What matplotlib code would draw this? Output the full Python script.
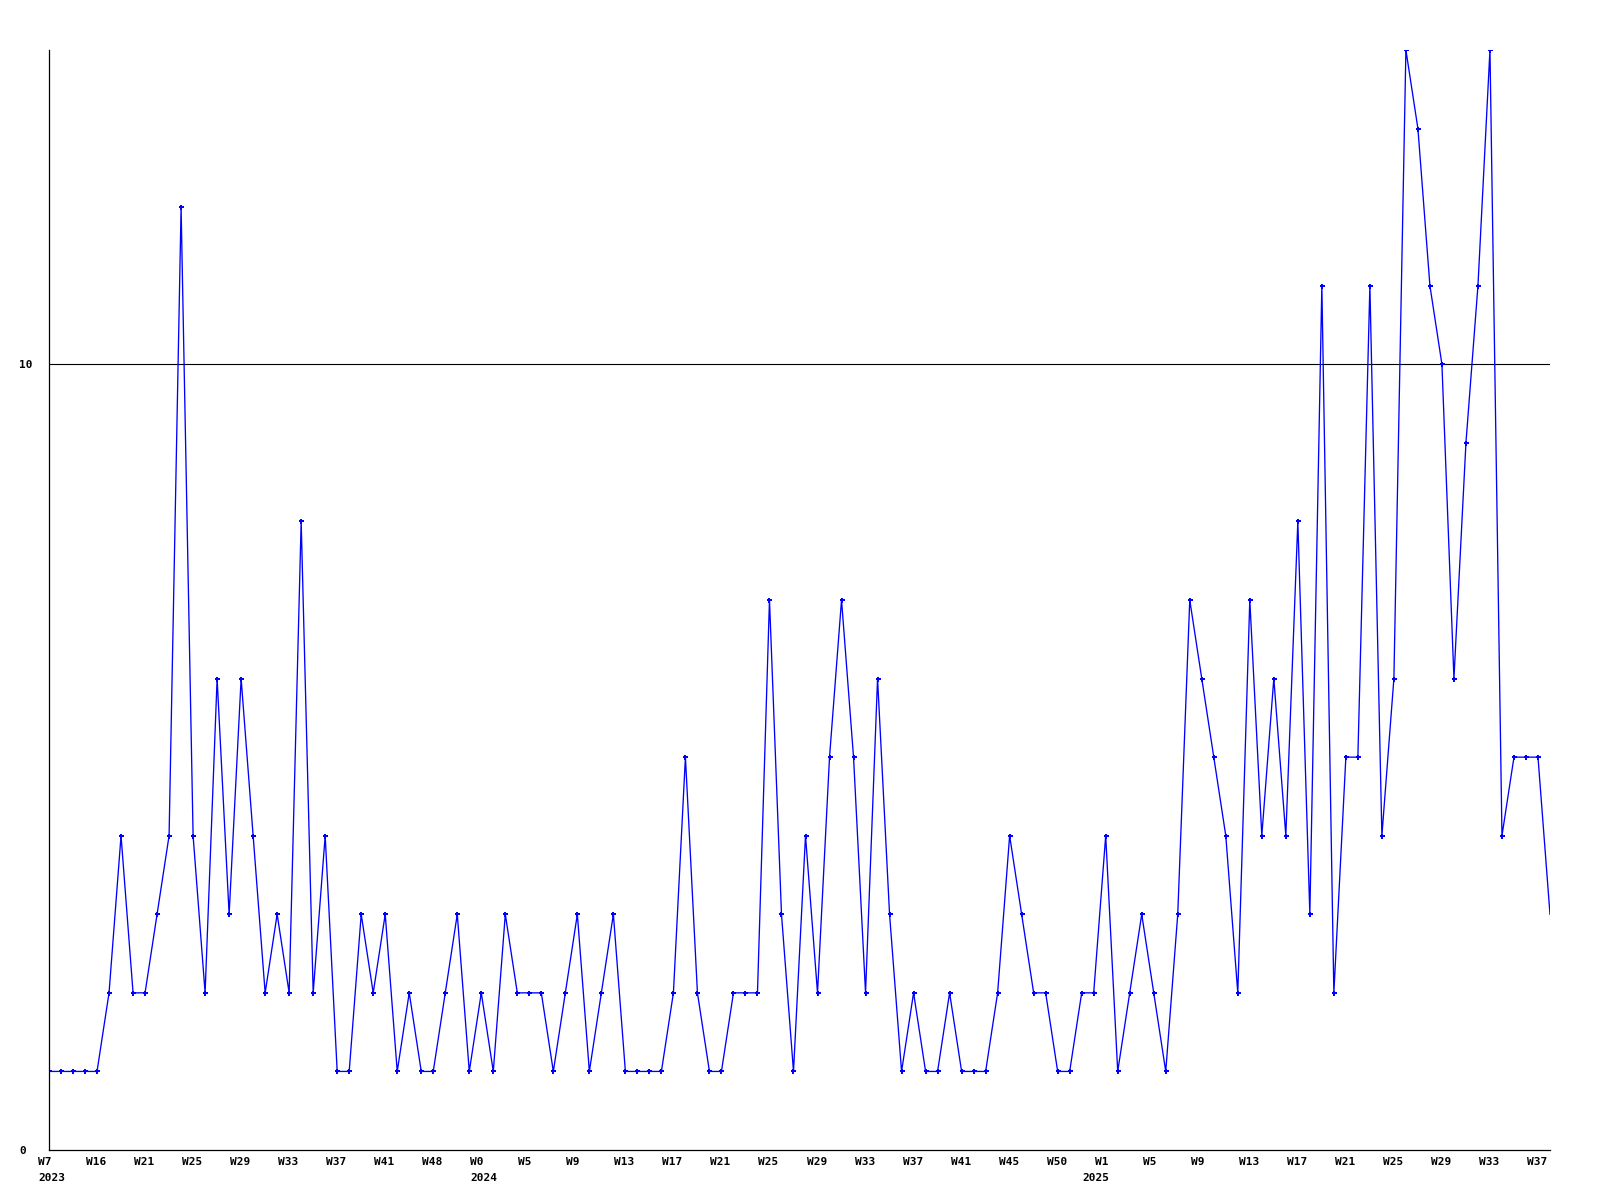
import numpy as np
import matplotlib
matplotlib.use('Agg')
import matplotlib.pyplot as plt
import matplotlib.transforms as mtransforms

# weekly counts
counts = [1, 1, 1, 1, 1, 2, 4, 2, 2, 3, 4, 12, 4, 2, 6, 3, 6, 4, 2, 3,
          2, 8, 2, 4, 1, 1, 3, 2, 3, 1, 2, 1, 1, 2, 3, 1, 2, 1, 3, 2,
          2, 2, 1, 2, 3, 1, 2, 3, 1, 1, 1, 1, 2, 5, 2, 1, 1, 2, 2, 2,
          7, 3, 1, 4, 2, 5, 7, 5, 2, 6, 3, 1, 2, 1, 1, 2, 1, 1, 1, 2,
          4, 3, 2, 2, 1, 1, 2, 2, 4, 1, 2, 3, 2, 1, 3, 7, 6, 5, 4, 2,
          7, 4, 6, 4, 8, 3, 11, 2, 5, 5, 11, 4, 6, 14, 13, 11, 10, 6, 9, 11,
          14, 4, 5, 5, 5, 3]

week_labels = ['W7', 'W16', 'W21', 'W25', 'W29', 'W33', 'W37', 'W41', 'W48',
               'W0', 'W5', 'W9', 'W13', 'W17', 'W21', 'W25', 'W29', 'W33',
               'W37', 'W41', 'W45', 'W50', 'W1', 'W5', 'W9', 'W13', 'W17',
               'W21', 'W25', 'W29', 'W33', 'W37']
label_step = 4
year_idx = [0, 9, 22]
year_txt = ['2023', '2024', '2025']
year_shift = [0, 0, -12]  # pixels, 2025 sits a bit left in the original

y_ticks = [0, 10]

x = np.arange(len(counts))

fig = plt.figure(figsize=(16, 12), dpi=100)
ax = fig.add_axes([49 / 1600, 50 / 1200, 1501 / 1600, 1100 / 1200])

ax.axhline(10, color='black', linewidth=0.8, zorder=1)
ax.plot(x, counts, color='#0000ff', linewidth=0.95, marker='P', markersize=3.6,
        markeredgewidth=0, markevery=list(range(len(counts) - 1)), zorder=2)

ax.set_xlim(0, len(counts) - 1)
ax.set_ylim(0, 14)

for s in ['top', 'right']:
    ax.spines[s].set_visible(False)
for s in ['left', 'bottom']:
    ax.spines[s].set_linewidth(0.9)

font = dict(family='DejaVu Sans Mono', weight='bold', size=8)

tick_pos = [i * label_step for i in range(len(week_labels))]
ax.set_xticks(tick_pos)
ax.set_xticklabels(week_labels, **font)
ax.tick_params(axis='x', length=0, pad=5)
offset = mtransforms.ScaledTranslation(-11 / 100, 0, fig.dpi_scale_trans)
for lab in ax.get_xticklabels():
    lab.set_horizontalalignment('left')
    lab.set_transform(lab.get_transform() + offset)

# year line under the week labels
trans = mtransforms.blended_transform_factory(ax.transData, fig.transFigure)
for i, t, dx in zip(year_idx, year_txt, year_shift):
    off = mtransforms.ScaledTranslation((dx - 11) / 100, 0, fig.dpi_scale_trans)
    ax.text(tick_pos[i], 1 - 1178 / 1200, t, transform=trans + off,
            ha='left', va='center', clip_on=False, **font)

ax.set_yticks(y_ticks)
ax.set_yticklabels([str(v) for v in y_ticks], **font)
ax.tick_params(axis='y', length=0, pad=30 * 72 / 100)
for lab in ax.get_yticklabels():
    lab.set_horizontalalignment('left')

fig.savefig('out.png', dpi=100)
